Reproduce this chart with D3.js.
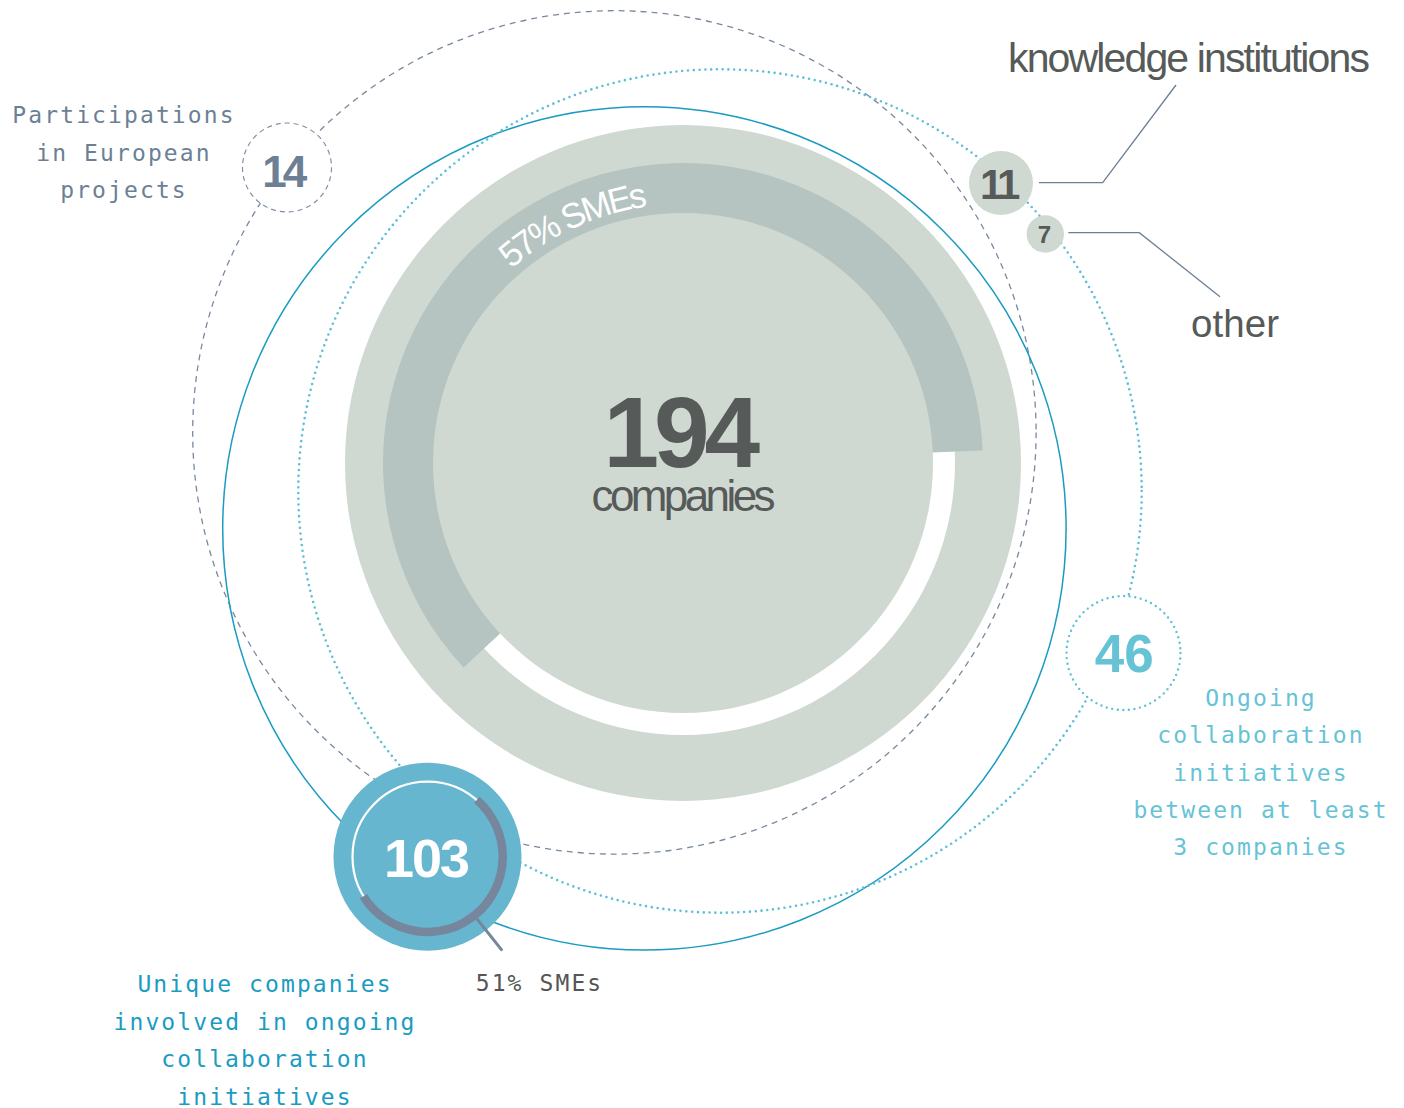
<!DOCTYPE html>
<html><head><meta charset="utf-8">
<script src="https://cdn.jsdelivr.net/npm/d3@7"></script>
<style>html,body{margin:0;padding:0;background:#fff;} svg{display:block;}</style>
</head><body>
<svg id="chart" width="1404" height="1108"></svg>
<script>
// ---------------- DATA ----------------
const totalCompanies = 194;
const companiesLabel = "companies";
const smeShares = [57, 51];            // % SMEs: all companies, unique companies
const smeSuffix = "% SMEs";
const metricKeys = ["eu", "knowledge", "other", "initiatives", "unique"];
const metricValues = [14, 11, 7, 46, 103];
const euLabel = ["Participations", "in European", "projects"];
const initiativeLabel = ["Ongoing", "collaboration", "initiatives", "between at least", "3 companies"];
const uniqueLabel = ["Unique companies", "involved in ongoing", "collaboration", "initiatives"];
const partnerLabels = ["knowledge institutions", "other"];

// ---------------- LAYOUT / STYLE ----------------
const SANS = "'Liberation Sans', Arial, Helvetica, sans-serif";
const MONO = "'DejaVu Sans Mono', monospace";
const C = {
  light: "#cfd8d1", arc: "#b5c4c1", blue: "#1a9bc1", cyan: "#5fc0d5",
  dash: "#7a899e", slate: "#6c7f95", dark: "#565a58", bubble: "#67b6cf",
  arcSlate: "#76879d", cyanText: "#66c3d6"
};
const deg = Math.PI / 180;
const center = { x: 683, y: 463 };
const svg = d3.select("#chart");

// angle scale: share (%) -> arc span (radians)
const shareAngle = d3.scaleLinear().domain([0, 100]).range([0, 387 * deg]);

function fitLetterSpacing(sel, target) {
  sel.attr("letter-spacing", 0);
  const n = sel.node().textContent.length;
  const w = sel.node().getComputedTextLength();
  sel.attr("letter-spacing", (target - w) / (n - 1));
}
function centerAt(sel, cx) {
  const b = sel.node().getBBox();
  sel.attr("x", +sel.attr("x") + (cx - (b.x + b.width / 2)));
}

// ---------------- CENTRAL DISC ----------------
const core = svg.append("g").attr("transform", `translate(${center.x},${center.y})`);
core.append("circle").attr("r", 338).attr("fill", C.light);
core.append("path").attr("d", d3.arc()({ innerRadius: 249, outerRadius: 272, startAngle: 0, endAngle: 2 * Math.PI })).attr("fill", "#fff");
const bigStart = -133 * deg;
core.append("path")
  .attr("d", d3.arc()({ innerRadius: 249, outerRadius: 300, startAngle: bigStart, endAngle: bigStart + shareAngle(smeShares[0]) }))
  .attr("fill", C.arc);
core.append("circle").attr("r", 250).attr("fill", C.light);

// curved "57% SMEs"
const tr = 259, a0 = -70 * deg, a1 = 40 * deg;
const pt = a => [tr * Math.sin(a), -tr * Math.cos(a)];
core.append("path").attr("id", "smeArc").attr("fill", "none")
  .attr("d", `M${pt(a0)} A${tr},${tr} 0 0 1 ${pt(a1)}`);
const textStart = -41.5 * deg, textEnd = -7.8 * deg;
const smeString = `${smeShares[0]}${smeSuffix}`;
const smeText = core.append("text").attr("font-family", SANS).attr("font-size", 35).attr("fill", "#fff");
const smeTP = smeText.append("textPath").attr("href", "#smeArc")
  .attr("startOffset", (textStart - a0) * tr).text(smeString);
{
  const tmp = svg.append("text").attr("font-family", SANS).attr("font-size", 35).text(smeString);
  const w = tmp.node().getComputedTextLength(); tmp.remove();
  const ls = ((textEnd - textStart) * tr - w) / (smeString.length - 1);
  smeTP.attr("letter-spacing", ls);
  smeText.attr("letter-spacing", ls);
}

const t194 = svg.append("text").attr("x", 0).attr("y", 467).attr("font-family", SANS)
  .attr("font-weight", "bold").attr("font-size", 100).attr("fill", C.dark)
  .attr("letter-spacing", -5).text(totalCompanies);
centerAt(t194, 682);
const tComp = svg.append("text").attr("x", 0).attr("y", 511).attr("font-family", SANS)
  .attr("font-size", 44).attr("fill", C.dark).text(companiesLabel);
fitLetterSpacing(tComp, 184);
centerAt(tComp, 683);

// ---------------- ORBIT RINGS ----------------
const rings = [
  { cx: 614.4, cy: 432.4, r: 421.7, stroke: C.dash, width: 1.3, dash: "6 5", cap: "butt" },
  { cx: 644.4, cy: 528.4, r: 421.7, stroke: C.blue, width: 1.5, dash: null, cap: "butt" },
  { cx: 720, cy: 491, r: 421.7, stroke: C.cyan, width: 2.6, dash: "0 5.8", cap: "round" }
];
svg.append("g").selectAll("circle").data(rings).join("circle")
  .attr("cx", d => d.cx).attr("cy", d => d.cy).attr("r", d => d.r)
  .attr("fill", "none").attr("stroke", d => d.stroke).attr("stroke-width", d => d.width)
  .attr("stroke-dasharray", d => d.dash).attr("stroke-linecap", d => d.cap);

// ---------------- BUBBLES ----------------
const bubbleLayout = {
  eu:          { cx: 287,    cy: 167.5, r: 44.5, fill: "#fff",   stroke: "#8391a5", sw: 1.2, dash: "5 4", cap: "butt",
                 tx: 285, ty: 186.7, fs: 44, ls: -4, color: C.slate },
  knowledge:   { cx: 1001,   cy: 183,   r: 32,   fill: C.light,  stroke: "none", sw: 0, dash: null, cap: "butt",
                 tx: 1000, ty: 199.3, fs: 42, ls: -4, color: C.dark },
  other:       { cx: 1045.3, cy: 234,   r: 18.7, fill: C.light,  stroke: "none", sw: 0, dash: null, cap: "butt",
                 tx: 1044.5, ty: 242.7, fs: 24, ls: 0, color: C.dark },
  initiatives: { cx: 1123.5, cy: 653,   r: 57,   fill: "#fff",   stroke: C.cyan, sw: 2.4, dash: "0 5.6", cap: "round",
                 tx: 1124.2, ty: 671.7, fs: 53, ls: 0, color: C.cyanText },
  unique:      { cx: 427.5,  cy: 856.7, r: 94,   fill: C.bubble, stroke: "none", sw: 0, dash: null, cap: "butt",
                 tx: 426.5, ty: 877, fs: 54, ls: -2, color: "#fff" }
};
const bubbles = metricKeys.map((k, i) => Object.assign({ key: k, value: metricValues[i] }, bubbleLayout[k]));

const bg = svg.append("g");
bg.selectAll("circle").data(bubbles).join("circle")
  .attr("cx", d => d.cx).attr("cy", d => d.cy).attr("r", d => d.r)
  .attr("fill", d => d.fill).attr("stroke", d => d.stroke).attr("stroke-width", d => d.sw)
  .attr("stroke-dasharray", d => d.dash).attr("stroke-linecap", d => d.cap);

// unique-companies ring decoration
const u = bubbleLayout.unique;
const ug = svg.append("g").attr("transform", `translate(${u.cx},${u.cy})`);
ug.append("circle").attr("r", 75).attr("fill", "none").attr("stroke", "#fff").attr("stroke-width", 2.2);
const smallStart = 41 * deg;
ug.append("path")
  .attr("d", d3.arc()({ innerRadius: 71, outerRadius: 79.5, startAngle: smallStart, endAngle: smallStart + shareAngle(smeShares[1]) }))
  .attr("fill", C.arcSlate);
const la = 141.5 * deg;
ug.append("line")
  .attr("x1", 78 * Math.sin(la)).attr("y1", -78 * Math.cos(la))
  .attr("x2", 120 * Math.sin(la)).attr("y2", -120 * Math.cos(la))
  .attr("stroke", C.arcSlate).attr("stroke-width", 3);

bubbles.forEach(d => {
  const t = svg.append("text").attr("x", 0).attr("y", d.ty).attr("font-family", SANS)
    .attr("font-weight", "bold").attr("font-size", d.fs).attr("fill", d.color)
    .attr("letter-spacing", d.ls).text(d.value);
  centerAt(t, d.tx);
});

// ---------------- LEADERS & PARTNER LABELS ----------------
const leaders = [
  [[1039, 182.7], [1102.7, 182.7], [1176, 85]],
  [[1068.3, 232.7], [1139.3, 232.7], [1220, 296.7]]
];
svg.append("g").selectAll("path").data(leaders).join("path")
  .attr("d", d3.line()).attr("fill", "none").attr("stroke", C.slate).attr("stroke-width", 1.3);

const partnerLayout = [
  { x: 1008, y: 71.5, fs: 41, w: 362 },
  { x: 1191, y: 336.7, fs: 38.5, w: 88 }
];
partnerLabels.forEach((s, i) => {
  const p = partnerLayout[i];
  const t = svg.append("text").attr("x", p.x).attr("y", p.y).attr("font-family", SANS)
    .attr("font-size", p.fs).attr("fill", C.dark).text(s);
  fitLetterSpacing(t, p.w);
});

// ---------------- MONO LABELS ----------------
function monoBlock(lines, cx, y0, dy, color) {
  svg.append("g").selectAll("text").data(lines).join("text")
    .attr("x", cx).attr("y", (d, i) => y0 + i * dy)
    .attr("text-anchor", "middle").attr("font-family", MONO).attr("font-size", 23)
    .attr("letter-spacing", 2.1).attr("fill", color).text(d => d);
}
monoBlock(euLabel, 124, 123.3, 37.5, C.slate);
monoBlock(initiativeLabel, 1261, 706, 37.25, C.cyanText);
monoBlock(uniqueLabel, 265, 992.3, 37.4, C.blue);
svg.append("text").attr("x", 539.5).attr("y", 991).attr("text-anchor", "middle")
  .attr("font-family", MONO).attr("font-size", 23).attr("letter-spacing", 2.1)
  .attr("fill", "#555").text(`${smeShares[1]}${smeSuffix}`);
</script>
</body></html>
